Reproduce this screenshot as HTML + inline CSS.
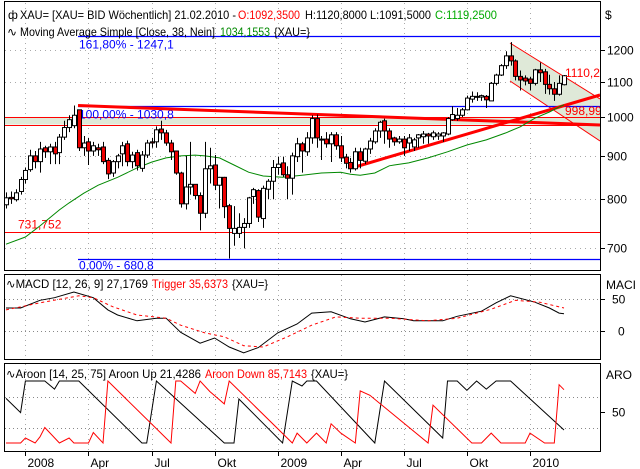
<!DOCTYPE html>
<html><head><meta charset="utf-8">
<style>
html,body{margin:0;padding:0;background:#fff;}
svg{display:block;font-family:"Liberation Sans",Arial,sans-serif;font-size:12px;}
</style></head>
<body>
<svg id="chart" width="640" height="469" viewBox="0 0 640 469" xmlns="http://www.w3.org/2000/svg">
<rect x="0" y="0" width="640" height="469" fill="#fff"/>
<g id="grid"></g>
<g id="price"></g>
<g id="macd"></g>
<g id="aroon"></g>
<rect x="4.5" y="1.5" width="596" height="269" fill="none" stroke="#000"/>
<rect x="4.5" y="274.5" width="596" height="85" fill="none" stroke="#000"/>
<rect x="4.5" y="363.5" width="596" height="88" fill="none" stroke="#000"/>
<g>
<text x="8" y="19">ф</text>
<text x="20" y="19" textLength="216" lengthAdjust="spacingAndGlyphs">XAU= [XAU= BID Wöchentlich] 21.02.2010 -</text>
<text x="238" y="19" fill="#f00" textLength="62" lengthAdjust="spacingAndGlyphs">O:1092,3500</text>
<text x="305" y="19" textLength="126" lengthAdjust="spacingAndGlyphs">H:1120,8000 L:1091,5000</text>
<text x="435" y="19" fill="#0a0" textLength="62" lengthAdjust="spacingAndGlyphs">C:1119,2500</text>
<text x="7" y="36">∿</text>
<text x="20" y="36" textLength="195" lengthAdjust="spacingAndGlyphs">Moving Average Simple [Close, 38, Nein]</text>
<text x="220" y="36" fill="#080" textLength="50" lengthAdjust="spacingAndGlyphs">1034,1553</text>
<text x="274" y="36" textLength="36" lengthAdjust="spacingAndGlyphs">{XAU=}</text>
<text x="605" y="19">$</text>
</g>
<g>
<text x="6" y="288" textLength="142" lengthAdjust="spacingAndGlyphs">∿MACD [12, 26, 9] 27,1769</text>
<text x="152" y="288" fill="#f00" textLength="76" lengthAdjust="spacingAndGlyphs">Trigger 35,6373</text>
<text x="232" y="288" textLength="36" lengthAdjust="spacingAndGlyphs">{XAU=}</text>
<text x="606" y="289">MACI</text>
</g>
<g>
<text x="6" y="378" textLength="195" lengthAdjust="spacingAndGlyphs">∿Aroon [14, 25, 75] Aroon Up 21,4286</text>
<text x="205" y="378" fill="#f00" textLength="102" lengthAdjust="spacingAndGlyphs">Aroon Down 85,7143</text>
<text x="311" y="378" textLength="37" lengthAdjust="spacingAndGlyphs">{XAU=}</text>
<text x="606" y="379">ARO</text>
</g>
<g id="xaxis"></g>
</svg>
<script>
var opens = [788,804,799,817,844,867,900,886,920,910,922,908,947,972,977,1020,920,935,912,920,922,889,859,886,905,930,886,908,870,902,935,935,968,958,932,912,859,790,827,833,808,770,869,878,831,849,786,729,729,741,749,806,819,759,822,840,872,883,855,847,898,930,910,945,996,942,942,930,953,925,897,884,869,910,887,917,935,963,990,963,945,935,942,932,922,945,948,955,948,950,950,955,993,996,1005,1020,1050,1056,1056,1058,1045,1096,1121,1150,1181,1165,1117,1112,1109,1096,1137,1131,1093,1080,1064,1092];
var closes = [803,801,814,844,865,900,886,917,910,922,905,947,972,993,1005,920,932,912,925,915,886,857,886,900,925,886,902,876,902,932,932,966,958,932,910,859,790,827,833,808,770,869,876,831,849,784,739,739,741,749,803,821,762,824,840,872,880,855,847,900,930,912,945,996,945,940,930,953,925,895,882,869,910,889,917,937,963,986,963,942,935,942,920,945,940,953,955,950,958,955,958,996,1007,1005,1020,1053,1058,1058,1060,1048,1096,1121,1150,1181,1165,1117,1106,1103,1096,1137,1128,1093,1080,1064,1096,1119];
var highs = [815,817,822,850,872,915,912,935,925,930,935,955,990,1005,1032,1012,950,945,935,930,935,895,890,905,935,938,910,915,912,940,945,975,990,966,940,912,862,900,935,830,815,935,920,902,850,850,790,785,770,760,805,825,822,830,845,890,898,898,875,908,945,935,960,1005,1007,950,960,960,960,950,905,895,920,920,920,945,970,990,996,970,948,950,950,955,945,955,963,958,964,960,960,1000,1030,1025,1025,1060,1072,1070,1063,1062,1100,1125,1155,1196,1226,1170,1135,1120,1116,1140,1160,1140,1122,1100,1120,1121];
var lows = [780,790,795,810,835,862,870,860,895,880,880,880,940,960,970,912,900,878,900,900,880,845,850,870,875,875,870,865,862,895,920,920,940,925,890,855,782,778,810,800,735,760,835,820,780,760,681,705,720,700,740,790,752,740,800,800,855,850,800,810,885,860,900,930,920,890,920,885,915,885,870,860,865,870,880,905,930,945,930,920,925,930,900,912,912,920,930,930,940,940,935,952,990,990,1000,1018,1040,1045,1045,1025,1045,1090,1118,1140,1150,1105,1075,1090,1075,1090,1100,1065,1063,1045,1060,1090];
var maWeeks = [0,4,7,11,13,16,19,23,27,30,33,36,39,41,44,47,50,53,57,61,65,69,71,73,76,79,80,83,87,91,95,99,103,106,109,112,114,115];
var maValues = [708,722,744,777,792,813,831,849,871,885,895,900,902,900,895,878,861,852,849,854,859,861,856,854,859,876,878,883,895,910,927,940,958,974,997,1014,1028,1034];
var macdWeeks = [0,3,7,10,14,18,21,23,27,31,33,36,40,43,46,49,52,56,60,63,67,71,74,78,82,84,90,93,98,101,104,109,112,114,115];
var macdValues = [36,36,48,52,61,52,33,25,16,20,20,-2,-19,-11,-25,-34,-26,-3,11,28,30,19,14,22,19,16,16,23,31,44,55,45,36,28,27];
var triggerWeeks = [0,7,15,18,22,27,33,36,41,45,49,53,58,63,68,73,79,87,93,100,105,110,115];
var triggerValues = [33,44,55,52,38,25,20,9,-3,-9,-23,-25,-9,9,22,20,20,16,20,34,48,45,36];
var aroonUpWeeks = [0,3,4,8,10,11,15,28,29,31,45,47,48,57,59,61,62,64,76,78,90,91,93,95,97,99,101,104,115];
var aroonUpValues = [72,49,100,100,87,100,100,0,0,100,0,0,71,0,100,92,100,100,0,100,8,100,100,85,100,87,100,100,21];
var aroonDownWeeks = [0,3,4,6,7,8,11,13,14,17,18,20,21,34,35,36,39,40,42,45,46,59,60,62,64,66,67,69,72,73,75,87,88,96,98,100,102,107,108,111,113,114,115];
var aroonDownValues = [0,0,8,0,10,25,0,8,0,0,17,0,100,0,100,100,80,100,83,63,100,0,16,0,16,0,31,16,0,84,77,0,61,0,0,16,0,0,16,0,0,94,86];
var priceTicks = [1200,1100,1000,900,800,700];
var quarterWeeks = [4,17,30,43,56,69,82,95,108];
var quarterLabels = ["2008","Apr","Jul","Okt","2009","Apr","Jul","Okt","2010"];
var fibLevels = [1247.1,1030.8,680.8];
var fibLabels = ["161,80% - 1247,1","100,00% - 1030,8","0,00% - 680,8"];
var supportLevel = 731.752;

function xW(i){ return 6 + i*4.852; }
function yP(v){ return 50 + Math.log(1200/v)*368; }
function yM(v){ return 331 - v*0.64; }
function yA(v){ return 443 - v*0.62; }

var NS = "http://www.w3.org/2000/svg";
function mk(parent, tag, attrs){
  var e = document.createElementNS(NS, tag);
  for (var k in attrs) e.setAttribute(k, attrs[k]);
  parent.appendChild(e);
  return e;
}
var grid = document.getElementById('grid');
var price = document.getElementById('price');
var macd = document.getElementById('macd');
var aroon = document.getElementById('aroon');
var xaxis = document.getElementById('xaxis');

quarterWeeks.forEach(function(w, k){
  var x = Math.round(xW(w)) + 0.5;
  [[3,270],[275,359],[364,451]].forEach(function(r){
    var g = mk(grid, 'line', {x1:x, x2:x, y1:r[0], y2:r[1], stroke:'#aaa', 'stroke-dasharray':'1,4'});
    
    
  });
  var t = mk(xaxis, 'line', {x1:x, x2:x, y1:452, y2:456, stroke:'#000'});
  
  
  var l = mk(xaxis, 'text', {x:x+2, y:467});
  l.textContent = quarterLabels[k];
  
  
});

priceTicks.forEach(function(v){
  var y = Math.round(yP(v)) + 0.5;
  var g = mk(grid, 'line', {x1:5, x2:600, y1:y, y2:y, stroke:'#aaa', 'stroke-dasharray':'1,4'});
  
  
  var t = mk(price, 'line', {x1:601, x2:605, y1:y, y2:y, stroke:'#000'});
  
  
  var l = mk(price, 'text', {x:607, y:y+4});
  l.textContent = v;
  
  
});

var defs = mk(document.getElementById('chart'), 'defs', {});
var cp = mk(defs, 'clipPath', {id:'pc'});
mk(cp, 'rect', {x:5, y:2, width:595, height:269});
var pg = mk(price, 'g', {'clip-path':'url(#pc)'});



var band = mk(pg, 'rect', {x:5, y:yP(1000.5), width:595, height:yP(980)-yP(1000.5), fill:'#dfe9d8'});


var chan = mk(pg, 'polygon', {points:'510,43 600,99 600,141 510,81', fill:'#dfe9d8'});


var c1 = mk(pg, 'line', {x1:510, y1:43, x2:600, y2:99, stroke:'#f00'});


var c2 = mk(pg, 'line', {x1:510, y1:81, x2:600, y2:141, stroke:'#f00'});


[1000.5,980].forEach(function(v){
  var b = mk(pg, 'line', {x1:5, x2:600, y1:Math.round(yP(v))+0.5, y2:Math.round(yP(v))+0.5, stroke:'#f00'});
  
  
});

fibLevels.forEach(function(v, k){
  var y = Math.round(yP(v)) + 0.5;
  var fl = mk(pg, 'line', {x1:78, x2:600, y1:y, y2:y, stroke:'#00f', 'stroke-width':1.2});
  
  
  var ft = mk(pg, 'text', {x:79, y:y+(k===2?10:12), fill:'#00f'});
  ft.textContent = fibLabels[k];
  
  
});
var sy = Math.round(yP(supportLevel)) + 0.5;
var sl = mk(pg, 'line', {x1:5, x2:600, y1:sy, y2:sy, stroke:'#f00'});


var st = mk(pg, 'text', {x:18, y:sy-4, fill:'#f00'});
st.textContent = '731,752';



var t1 = mk(pg, 'line', {x1:78, y1:105.5, x2:600, y2:125, stroke:'#f00', 'stroke-width':3});


var t2 = mk(pg, 'line', {x1:355, y1:167, x2:600, y2:95, stroke:'#f00', 'stroke-width':3});



var maPts = maWeeks.map(function(w,k){ return xW(w).toFixed(1)+','+yP(maValues[k]).toFixed(1); }).join(' ');
var ma = mk(pg, 'polyline', {points:maPts, fill:'none', stroke:'#080', 'stroke-width':1});



closes.forEach(function(c, i){
  var o = opens[i], x = Math.round(xW(i));
  var w = mk(pg, 'line', {x1:x+0.5, x2:x+0.5, y1:yP(highs[i]), y2:yP(lows[i]), stroke:'#000'});
  
  
  var top = Math.min(yP(o), yP(c)), h = Math.max(1, Math.abs(yP(o)-yP(c)));
  var b = mk(pg, 'rect', {x:x-1.5, y:top, width:4, height:h, fill:(c>=o?'#fff':'#e00'), stroke:'#000', 'stroke-width':1});
  
  
});

var l1 = mk(pg, 'text', {x:565, y:77, fill:'#f00'});
l1.textContent = '1110,27';


var l2 = mk(pg, 'text', {x:565, y:115, fill:'#f00'});
l2.textContent = '998,992';



[0,50].forEach(function(v){
  var y = Math.round(yM(v)) + 0.5;
  var g = mk(macd, 'line', {x1:5, x2:600, y1:y, y2:y, stroke:'#888', 'stroke-dasharray':'1,3'});
  
  
  var t = mk(macd, 'line', {x1:601, x2:605, y1:y, y2:y, stroke:'#000'});
  
  
  var l = mk(macd, 'text', {x:(v?612:618), y:y+4});
  l.textContent = v;
  
  
});
var mp = macdWeeks.map(function(w,k){ return xW(w).toFixed(1)+','+yM(macdValues[k]).toFixed(1); }).join(' ');
var ml = mk(macd, 'polyline', {points:mp, fill:'none', stroke:'#000'});


var tp = triggerWeeks.map(function(w,k){ return xW(w).toFixed(1)+','+yM(triggerValues[k]).toFixed(1); }).join(' ');
var tl = mk(macd, 'polyline', {points:tp, fill:'none', stroke:'#f00', 'stroke-dasharray':'3,3'});



[75,25].forEach(function(v){
  var y = Math.round(yA(v)) + 0.5;
  var g = mk(aroon, 'line', {x1:5, x2:600, y1:y, y2:y, stroke:'#888', 'stroke-dasharray':'1,3'});
  
  
});
var ay = Math.round(yA(50)) + 0.5;
var at = mk(aroon, 'line', {x1:601, x2:605, y1:ay, y2:ay, stroke:'#000'});


var al = mk(aroon, 'text', {x:612, y:ay+4});
al.textContent = '50';


var up = aroonUpWeeks.map(function(w,k){ return xW(w).toFixed(1)+','+yA(aroonUpValues[k]).toFixed(1); }).join(' ');
var ul = mk(aroon, 'polyline', {points:up, fill:'none', stroke:'#000'});


var dn = aroonDownWeeks.map(function(w,k){ return xW(w).toFixed(1)+','+yA(aroonDownValues[k]).toFixed(1); }).join(' ');
var dl = mk(aroon, 'polyline', {points:dn, fill:'none', stroke:'#f00'});


</script>
</body></html>
